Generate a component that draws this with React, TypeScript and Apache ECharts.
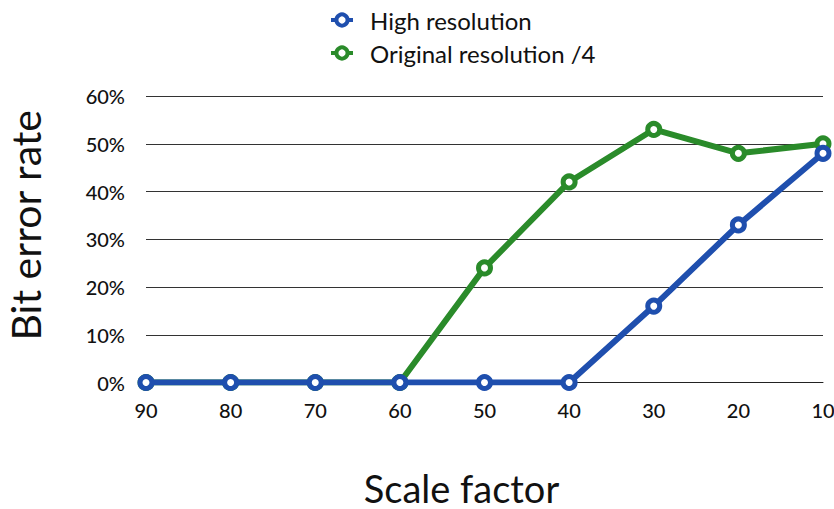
import React, { useEffect, useRef } from "react";
import * as echarts from "echarts";

const categories = ["90", "80", "70", "60", "50", "40", "30", "20", "10"];
const highResolution = [0, 0, 0, 0, 0, 0, 16, 33, 48];
const originalResolution4 = [0, 0, 0, 0, 24, 42, 53, 48, 50];
const yTicks = [0, 10, 20, 30, 40, 50, 60];

const FONT = "Lato, 'Open Sans', sans-serif";
const BLUE = "#1f4fae";
const GREEN = "#2a8b2a";

export default function App() {
  const ref = useRef<HTMLDivElement>(null);
  useEffect(() => {
    if (!ref.current) return;
    const chart = echarts.init(ref.current, null, { renderer: "svg" });
    const seriesStyle = (color: string) => ({
      type: "line",
      symbol: "circle",
      symbolSize: 12,
      lineStyle: { color, width: 6 },
      itemStyle: { color: "#ffffff", borderColor: color, borderWidth: 5 },
    });
    chart.setOption({
      animation: false,
      backgroundColor: "#ffffff",
      legend: {
        orient: "vertical",
        left: 324,
        top: 3,
        itemGap: 9,
        itemWidth: 22,
        itemHeight: 14,
        itemStyle: { borderWidth: 4 },
        lineStyle: { width: 4 },
        data: ["High resolution", "Original resolution /4"],
        textStyle: { fontFamily: FONT, fontSize: 24, color: "#111", padding: [0, 0, 0, 12] },
      },
      grid: { left: 146, right: 11, top: 96, bottom: 126.5, outerBoundsMode: "none" },
      xAxis: {
        type: "category",
        data: categories,
        boundaryGap: false,
        name: "Scale factor",
        nameLocation: "middle",
        nameGap: 89,
        nameTextStyle: {
          fontFamily: FONT,
          fontSize: 38,
          lineHeight: 32,
          color: "#111",
          padding: [0, 46, 0, 0],
        },
        axisLine: { show: true, lineStyle: { color: "#222", width: 1 } },
        axisTick: { show: false },
        axisLabel: { fontFamily: FONT, fontSize: 20, color: "#111", margin: 17, fontWeight: 500 },
      },
      yAxis: {
        type: "value",
        min: yTicks[0],
        max: yTicks[yTicks.length - 1],
        interval: 10,
        name: "Bit error rate",
        nameLocation: "middle",
        nameGap: 100,
        nameTextStyle: {
          fontFamily: FONT,
          fontSize: 41,
          lineHeight: 42,
          color: "#111",
          padding: [0, 0, 0, 28],
        },
        axisLine: { show: false },
        axisTick: { show: false },
        splitLine: { lineStyle: { color: "#333", width: 1 } },
        axisLabel: {
          fontFamily: FONT,
          fontSize: 20,
          color: "#111",
          margin: 21,
          fontWeight: 500,
          formatter: (v: number) => v + "%",
        },
      },
      series: [
        {
          ...seriesStyle(GREEN),
          name: "Original resolution /4",
          data: originalResolution4,
          z: 2,
        },
        {
          ...seriesStyle(BLUE),
          name: "High resolution",
          data: highResolution,
          z: 3,
        },
      ],
    });
    return () => chart.dispose();
  }, []);
  return (
    <div
      ref={ref}
      style={{ position: "fixed", left: 0, top: 0, width: 834, height: 509, background: "#fff" }}
    />
  );
}
